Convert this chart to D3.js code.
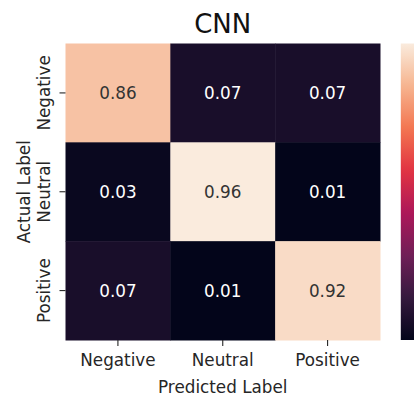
<!DOCTYPE html>
<html>
<head>
<meta charset="utf-8">
<script src="https://cdn.jsdelivr.net/npm/d3@7"></script>
<style>
  html, body { margin: 0; padding: 0; background: #fff; }
  svg { display: block; }
  text { font-family: "DejaVu Sans", sans-serif; }
</style>
</head>
<body>
<svg id="chart" width="414" height="398"></svg>
<script>
// Confusion matrix for the CNN classifier (rows = actual, columns = predicted)
const title = "CNN";
const predictedLabels = ["Negative", "Neutral", "Positive"];
const actualLabels = ["Negative", "Neutral", "Positive"];
const rowNegative = [0.86, 0.07, 0.07];
const rowNeutral = [0.03, 0.96, 0.01];
const rowPositive = [0.07, 0.01, 0.92];
const matrix = [rowNegative, rowNeutral, rowPositive];

// "rocket" sequential palette stops
const rocketStops = ["#03051a", "#35193e", "#701f57", "#ad1759", "#e13342", "#f37651", "#f6b48f", "#faebdd"];

const svg = d3.select("#chart");
const plot = { left: 65.5, right: 380, top: 43.5, bottom: 340 };
const textColor = "#262626";
const fontSize = 16.8;

const cells = [];
matrix.forEach((row, i) => row.forEach((v, j) => cells.push({ actual: actualLabels[i], predicted: predictedLabels[j], value: v })));
const allValues = cells.map(d => d.value);
const vmin = d3.min(allValues), vmax = d3.max(allValues);

const rocket = d3.scaleLinear()
  .domain(rocketStops.map((_, k) => k / (rocketStops.length - 1)))
  .range(rocketStops)
  .interpolate(d3.interpolateRgb);
const color = v => rocket((v - vmin) / (vmax - vmin));

const x = d3.scaleBand().domain(predictedLabels).range([plot.left, plot.right]);
const y = d3.scaleBand().domain(actualLabels).range([plot.top, plot.bottom]);

// cells
svg.append("g").selectAll("rect").data(cells).join("rect")
  .attr("x", d => x(d.predicted))
  .attr("y", d => y(d.actual))
  .attr("width", x.bandwidth() + 0.5)
  .attr("height", y.bandwidth() + 0.5)
  .attr("fill", d => color(d.value));

// annotations: dark text on light cells, white on dark cells
svg.append("g").selectAll("text").data(cells).join("text")
  .attr("x", d => x(d.predicted) + x.bandwidth() / 2)
  .attr("y", d => y(d.actual) + y.bandwidth() / 2)
  .attr("text-anchor", "middle")
  .attr("dominant-baseline", "central")
  .attr("font-size", fontSize)
  .attr("fill", d => {
    const c = d3.rgb(color(d.value));
    const lum = 0.2126 * c.r / 255 + 0.7152 * c.g / 255 + 0.0722 * c.b / 255;
    return lum > 0.408 ? "#333333" : "#ffffff";
  })
  .text(d => d3.format(".2f")(d.value));

// x axis
const xAxis = svg.append("g")
  .attr("transform", `translate(0,${plot.bottom})`)
  .call(d3.axisBottom(x).tickSize(6).tickPadding(8).tickSizeOuter(0));
xAxis.select(".domain").remove();
xAxis.selectAll(".tick line").attr("stroke", textColor).attr("stroke-width", 1.1);
xAxis.selectAll(".tick text").attr("font-size", fontSize).attr("fill", textColor)
  .attr("font-family", "DejaVu Sans, sans-serif");

// y axis with rotated labels
const yAxis = svg.append("g")
  .attr("transform", `translate(${plot.left},0)`)
  .call(d3.axisLeft(y).tickSize(6).tickSizeOuter(0));
yAxis.select(".domain").remove();
yAxis.selectAll(".tick line").attr("stroke", textColor).attr("stroke-width", 1.1);
yAxis.selectAll(".tick text")
  .attr("font-size", fontSize).attr("fill", textColor)
  .attr("font-family", "DejaVu Sans, sans-serif")
  .attr("x", null).attr("dy", null)
  .attr("text-anchor", "middle")
  .attr("transform", `translate(${49.5 - plot.left},0) rotate(-90)`);

// axis titles
svg.append("text")
  .attr("x", (plot.left + plot.right) / 2).attr("y", 393)
  .attr("text-anchor", "middle").attr("font-size", fontSize).attr("fill", textColor)
  .text("Predicted Label");
svg.append("text")
  .attr("transform", `translate(29.5,${(plot.top + plot.bottom) / 2}) rotate(-90)`)
  .attr("text-anchor", "middle").attr("font-size", fontSize).attr("fill", textColor)
  .text("Actual Label");

// chart title
svg.append("text")
  .attr("x", (plot.left + plot.right) / 2).attr("y", 33)
  .attr("text-anchor", "middle").attr("font-size", 26).attr("fill", "#111")
  .text(title);

// colour bar
const cb = { left: 400.8, width: 16 };
const defs = svg.append("defs");
const grad = defs.append("linearGradient").attr("id", "cbar")
  .attr("x1", 0).attr("y1", 1).attr("x2", 0).attr("y2", 0);
grad.selectAll("stop").data(d3.range(0, 1.0001, 0.02)).join("stop")
  .attr("offset", d => d)
  .attr("stop-color", d => rocket(d));
svg.append("rect")
  .attr("x", cb.left).attr("y", plot.top)
  .attr("width", cb.width).attr("height", plot.bottom - plot.top)
  .attr("fill", "url(#cbar)");
</script>
</body>
</html>
